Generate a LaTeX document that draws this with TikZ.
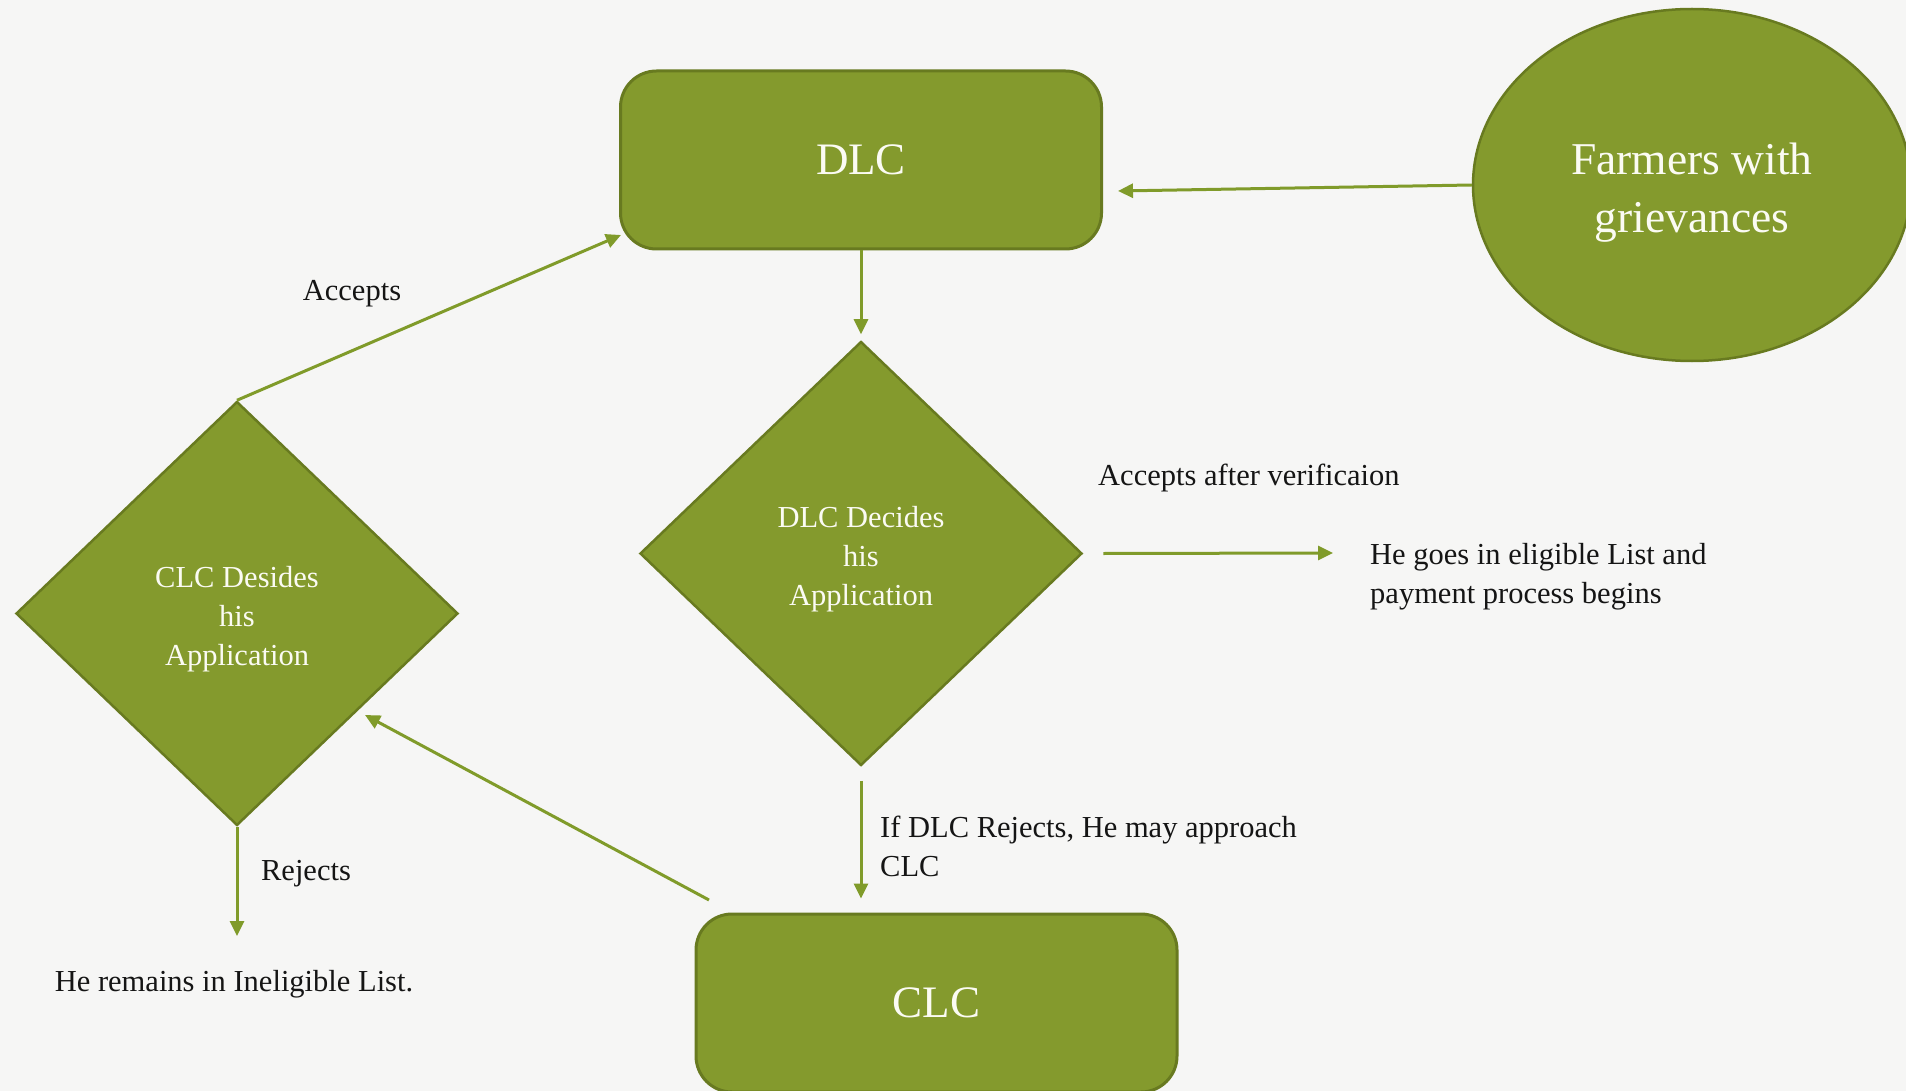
\documentclass[tikz,border=0pt]{standalone}
\usepackage{fontspec}
\setmainfont{Liberation Serif}
\usetikzlibrary{shapes.geometric,arrows.meta}
\definecolor{boxfill}{HTML}{849A2D}
\definecolor{boxline}{HTML}{687A20}
\definecolor{arrowc}{HTML}{809B2A}
\definecolor{bgc}{HTML}{F6F6F5}
\definecolor{labeltext}{HTML}{151515}
\definecolor{intext}{HTML}{FBFBF3}
\newcommand{\lowered}[2]{\begin{tabular}{@{}c@{}}\rule{0pt}{#1}#2\end{tabular}}
\begin{document}
\begin{tikzpicture}[x=1pt,y=-1pt,
 box/.style={draw=boxline, line width=3pt, fill=boxfill, rounded corners=36pt, minimum width=481pt, minimum height=178pt, text=intext, font=\fontsize{45}{54}\selectfont, inner sep=0pt},
 dia/.style={diamond, draw=boxline, line width=2.5pt, fill=boxfill, minimum width=442pt, minimum height=424pt, inner sep=0pt, text=intext, font=\fontsize{30.5}{39}\selectfont},
 oval/.style={ellipse, draw=boxline, line width=2.5pt, fill=boxfill, minimum width=438pt, minimum height=352pt, inner sep=0pt, text=intext, font=\fontsize{45.5}{58}\selectfont},
 lbl/.style={text=labeltext, font=\fontsize{30.5}{39}\selectfont, inner sep=0pt, align=left},
 arr/.style={draw=arrowc, line width=3pt, -{Triangle[length=15pt,width=14pt]}}]
\fill[bgc] (0,0) rectangle (1906,1091);
\useasboundingbox (0,0) rectangle (1906,1091);

\node[box] (dlc) at (861,160) {DLC};
\node[box] (clc) at (936.5,1003) {CLC};
\node[oval] (far) at (1692,185) {\lowered{55pt}{Farmers with\\grievances}};
\node[dia] (dd) at (861,553.5) {\lowered{37pt}{DLC Decides\\his\\Application}};
\node[dia] (cd) at (237,613.5) {\lowered{37pt}{CLC Desides\\his\\Application}};

\node[lbl, anchor=west] (accv) at (1098,478) {Accepts after verificaion};
\node[lbl, anchor=west] (elig) at (1370,577) {He goes in eligible List and\\payment process begins};
\node[lbl, anchor=west] (ifdlc) at (880,846) {If DLC Rejects, He may approach\\CLC};
\node[lbl] (acc) at (352,294) {Accepts};
\node[lbl] (rej) at (306,874) {Rejects};
\node[lbl] (inel) at (234,984) {He remains in Ineligible List.};

\coordinate (eligin) at (1333,553);
\coordinate (clcin) at (dd.south |- clc.north);
\coordinate (clcout) at (709,900);
\coordinate (cdin) at (365,715);
\coordinate (dlcin) at (621,235);
\coordinate (rejend) at (237,936);

\draw[arr] (far.west) -- ([xshift=15pt,yshift=-31pt]dlc.east);
\draw[arr, shorten >=6pt] (dlc.south) -- (dd.north);
\draw[arr] ([xshift=20pt]dd.east) -- (eligin);
\draw[arr, shorten <=14pt, shorten >=14pt] (dd.south) -- (clcin);
\draw[arr] (clcout) -- (cdin);
\draw[arr] (cd.north) -- (dlcin);
\draw[arr] (cd.south) -- (rejend);
\end{tikzpicture}
\end{document}
